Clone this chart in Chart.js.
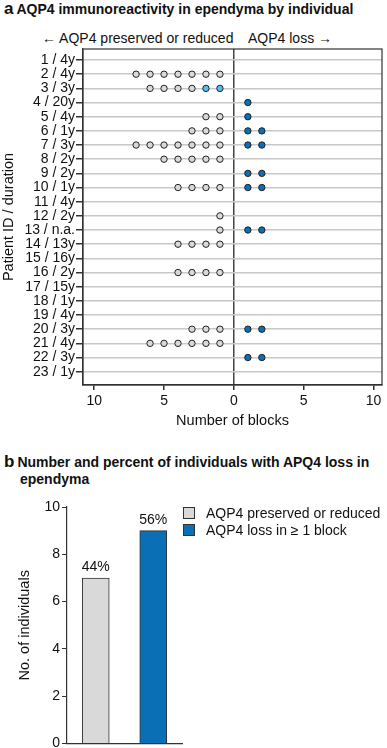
<!DOCTYPE html>
<html>
<head>
<meta charset="utf-8">
<script src="https://cdn.jsdelivr.net/npm/chart.js@4.4.1/dist/chart.umd.min.js"></script>
<style>
  body { margin: 0; width: 387px; height: 748px; position: relative; background: #fff;
         font-family: "Liberation Sans", Arial, sans-serif; color: #111; overflow: hidden; }
  .ttl { position: absolute; left: 4px; font-weight: bold; font-size: 14px; line-height: 17px; white-space: nowrap; }
  .ttl .lt { font-size: 17px; margin-right: 3px; }
  .hdr { position: absolute; top: 30px; font-size: 14px; white-space: nowrap; }
  canvas { position: absolute; left: 0; }
  #legend { position: absolute; left: 183px; top: 505px; font-size: 14px; }
  #legend div { height: 17px; line-height: 17px; white-space: nowrap; }
  #legend span { display: inline-block; width: 10px; height: 10px; border: 1px solid #333;
                 vertical-align: -1px; margin-right: 11px; }
</style>
</head>
<body>
<div class="ttl" style="top:0px"><span class="lt">a</span>AQP4 immunoreactivity in ependyma by individual</div>
<div class="hdr" style="left:42px">← AQP4 preserved or reduced</div>
<div class="hdr" style="left:248px">AQP4 loss →</div>
<canvas id="dots" width="387" height="435" style="top:0"></canvas>

<div class="ttl" style="top:453px"><span class="lt">b</span>Number and percent of individuals with APQ4 loss in<br><span style="margin-left:16px">ependyma</span></div>
<canvas id="bars" width="200" height="259" style="top:495px"></canvas>
<div id="legend"></div>

<script>
// panel a: blocks per patient
const patients = ['1 / 4y', '2 / 4y', '3 / 3y', '4 / 20y', '5 / 4y', '6 / 1y', '7 / 3y', '8 / 2y',
  '9 / 2y', '10 / 1y', '11 / 4y', '12 / 2y', '13 / n.a.', '14 / 13y', '15 / 16y', '16 / 2y',
  '17 / 15y', '18 / 1y', '19 / 4y', '20 / 3y', '21 / 4y', '22 / 3y', '23 / 1y'];
const preservedBlocks = [0, 7, 4, 0, 2, 3, 7, 5, 0, 4, 0, 1, 1, 4, 0, 4, 0, 0, 0, 3, 6, 0, 0];
const reducedBlocks   = [0, 0, 2, 0, 0, 0, 0, 0, 0, 0, 0, 0, 0, 0, 0, 0, 0, 0, 0, 0, 0, 0, 0];
const lossBlocks      = [0, 0, 0, 1, 1, 2, 2, 0, 2, 2, 0, 0, 2, 0, 0, 0, 0, 0, 0, 2, 0, 2, 0];
const xTicks = [-10, -5, 0, 5, 10];

// panel b
const groups = ['AQP4 preserved or reduced', 'AQP4 loss in ≥ 1 block'];
const individuals = [7, 9];
const groupColors = ['#d9d9d9', '#0a6fb4'];

const ink = '#333';
const font = { family: '"Liberation Sans", Arial, sans-serif', size: 14 };
const titleFont = { family: '"Liberation Sans", Arial, sans-serif', size: 14.5 };
Chart.defaults.color = '#111';

// one dot per block, reduced ones next to zero, preserved ones further left
let preservedPts = [], reducedPts = [], lossPts = [];
patients.forEach((p, i) => {
  const row = i + 1;
  for (let k = 1; k <= reducedBlocks[i]; k++) reducedPts.push({ x: -k, y: row });
  for (let k = 1; k <= preservedBlocks[i]; k++) preservedPts.push({ x: -(reducedBlocks[i] + k), y: row });
  for (let k = 1; k <= lossBlocks[i]; k++) lossPts.push({ x: k, y: row });
});

const dotStyle = { pointRadius: 3.2, pointBorderWidth: 1, pointBorderColor: '#222', showLine: false };

const boxPlugin = {
  id: 'box',
  afterDraw(chart) {
    const a = chart.chartArea, c = chart.ctx;
    c.save();
    c.strokeStyle = ink;
    c.lineWidth = 1.2;
    c.strokeRect(a.left, a.top, a.right - a.left, a.bottom - a.top);
    c.restore();
  }
};

new Chart(document.getElementById('dots'), {
  type: 'scatter',
  data: {
    datasets: [
      { label: 'preserved', data: preservedPts, pointBackgroundColor: '#d9d9d9', ...dotStyle },
      { label: 'reduced', data: reducedPts, pointBackgroundColor: '#56bff0', ...dotStyle },
      { label: 'loss', data: lossPts, pointBackgroundColor: '#0a6fb4', ...dotStyle }
    ]
  },
  options: {
    responsive: false,
    animation: false,
    layout: { padding: { top: 49, right: 4, left: 0, bottom: 0 } },
    plugins: { legend: { display: false }, tooltip: { enabled: false } },
    scales: {
      x: {
        type: 'linear', min: -10.8, max: 10.6,
        afterBuildTicks: s => { s.ticks = xTicks.map(v => ({ value: v })); },
        afterFit: s => { s.height = 50; },
        ticks: { font, padding: 3, callback: v => Math.abs(v) },
        grid: {
          color: c => c.tick && c.tick.value === 0 ? '#444' : 'rgba(0,0,0,0)',
          lineWidth: 1.5, tickColor: ink, tickLength: 5
        },
        border: { color: ink, width: 1.2 },
        title: { display: true, text: 'Number of blocks', font: titleFont, padding: { top: 0, bottom: 5 } }
      },
      y: {
        type: 'linear', reverse: true, min: 0.22, max: 23.94,
        afterBuildTicks: s => { s.ticks = patients.map((p, i) => ({ value: i + 1 })); },
        afterFit: s => { s.width = 83; },
        ticks: { font, padding: 1, autoSkip: false, callback: v => patients[v - 1] },
        grid: { color: '#c8c8c8', lineWidth: 1.5, tickColor: ink, tickLength: 7 },
        border: { color: ink, width: 1.2 },
        title: { display: true, text: 'Patient ID / duration', font: titleFont, padding: 0 }
      }
    }
  },
  plugins: [boxPlugin]
});

// panel b: bar chart
const pctPlugin = {
  id: 'pct',
  afterDatasetsDraw(chart) {
    const c = chart.ctx, total = individuals.reduce((a, b) => a + b, 0);
    c.save();
    c.font = '14px "Liberation Sans", Arial, sans-serif';
    c.fillStyle = '#111';
    c.textAlign = 'center';
    c.textBaseline = 'bottom';
    chart.getDatasetMeta(0).data.forEach((bar, i) => {
      c.fillText(Math.round(individuals[i] / total * 100) + '%', bar.x, bar.y - 4);
    });
    c.restore();
  }
};

new Chart(document.getElementById('bars'), {
  type: 'bar',
  data: {
    labels: groups,
    datasets: [{
      data: individuals,
      backgroundColor: groupColors,
      borderColor: ink,
      borderWidth: 1,
      barThickness: 27
    }]
  },
  options: {
    responsive: false,
    animation: false,
    layout: { padding: { top: 12, right: 18, left: 0, bottom: 0 } },
    plugins: { legend: { display: false }, tooltip: { enabled: false } },
    scales: {
      x: {
        afterFit: s => { s.height = 6; },
        ticks: { display: false },
        grid: { display: false },
        border: { color: ink, width: 1.2 }
      },
      y: {
        min: 0, max: 10,
        afterFit: s => { s.width = 67; },
        ticks: { stepSize: 2, font, padding: 2 },
        grid: { drawOnChartArea: false, tickColor: ink, tickLength: 5 },
        border: { color: ink, width: 1.2 },
        title: { display: true, text: 'No. of individuals', font: titleFont, padding: { top: 16, bottom: 0 } }
      }
    }
  },
  plugins: [pctPlugin]
});

// legend for panel b
const lg = document.getElementById('legend');
groups.forEach((g, i) => {
  const row = document.createElement('div');
  const sw = document.createElement('span');
  sw.style.background = groupColors[i];
  row.appendChild(sw);
  row.appendChild(document.createTextNode(g));
  lg.appendChild(row);
});
</script>
</body>
</html>
